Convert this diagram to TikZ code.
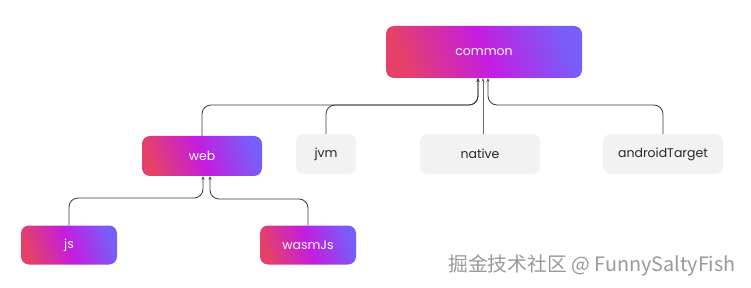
\documentclass[tikz,border=0pt]{standalone}
\usepackage{fontspec}
\setmainfont{Poppins}
\newfontfamily\cjk{Noto Sans CJK SC}
\usetikzlibrary{arrows.meta,shadows}
\definecolor{gL}{HTML}{E4406A}
\definecolor{gM}{HTML}{C41DE0}
\definecolor{gR}{HTML}{7A5CF8}
\definecolor{boxgray}{HTML}{F2F2F2}
\definecolor{linegray}{HTML}{3A3A3A}
\tikzset{
  gradbox/.style={rounded corners=8pt, left color=gL, right color=gR, middle color=gM, shading angle=110,
    text=white, font=\fontsize{12.5}{15}\selectfont, inner sep=0pt, anchor=center},
  graybox/.style={rounded corners=8pt, fill=boxgray, text=black!85, font=\fontsize{12.5}{15}\selectfont, inner sep=0pt, anchor=center},
  conn/.style={draw=linegray, line width=0.8pt, rounded corners=9pt, -{Stealth[length=3.5pt,width=3pt]}}
}
\begin{document}
\begin{tikzpicture}[x=1pt,y=-1pt]
\useasboundingbox (0,0) rectangle (751,288);
\fill[white] (0,0) rectangle (751,288);
% nodes
\node[gradbox, minimum width=196pt, minimum height=52pt] (common) at (484,52) {common};
\node[gradbox, minimum width=120pt, minimum height=40pt] (web) at (202,156) {web};
\node[graybox, minimum width=60pt, minimum height=40pt] (jvm) at (326,154) {jvm};
\node[graybox, minimum width=120pt, minimum height=40pt] (native) at (480,154) {native};
\node[graybox, minimum width=120pt, minimum height=40pt] (android) at (663,154) {androidTarget};
\node[gradbox, minimum width=96pt, minimum height=39pt] (js) at (69,245) {js};
\node[gradbox, minimum width=96pt, minimum height=39pt] (wasm) at (308,245) {wasmJs};
% junction coordinates
\coordinate (cL) at (478,105);
\coordinate (cR) at (488,105);
\coordinate (wL) at (203,198);
\coordinate (wR) at (210,199);
% connectors
\draw[conn] (web.north) |- (cL) -- (cL |- common.south);
\draw[conn] (jvm.north) |- (cL) -- (cL |- common.south);
\draw[conn, draw=gray!80!black] (native.north -| 483,0) -- (483,78);
\draw[conn] (android.north) |- (cR) -- (cR |- common.south);
\draw[conn] (js.north) |- (wL) -- (wL |- web.south);
\draw[conn] (wasm.north) |- (wR) -- (wR |- web.south);
% watermark
\node[font=\cjk\fontsize{19.8}{22}\selectfont, text=gray!80, anchor=west, inner sep=0pt] (wm) at (448,265) {掘金技术社区 @ FunnySaltyFish};
\end{tikzpicture}
\end{document}
